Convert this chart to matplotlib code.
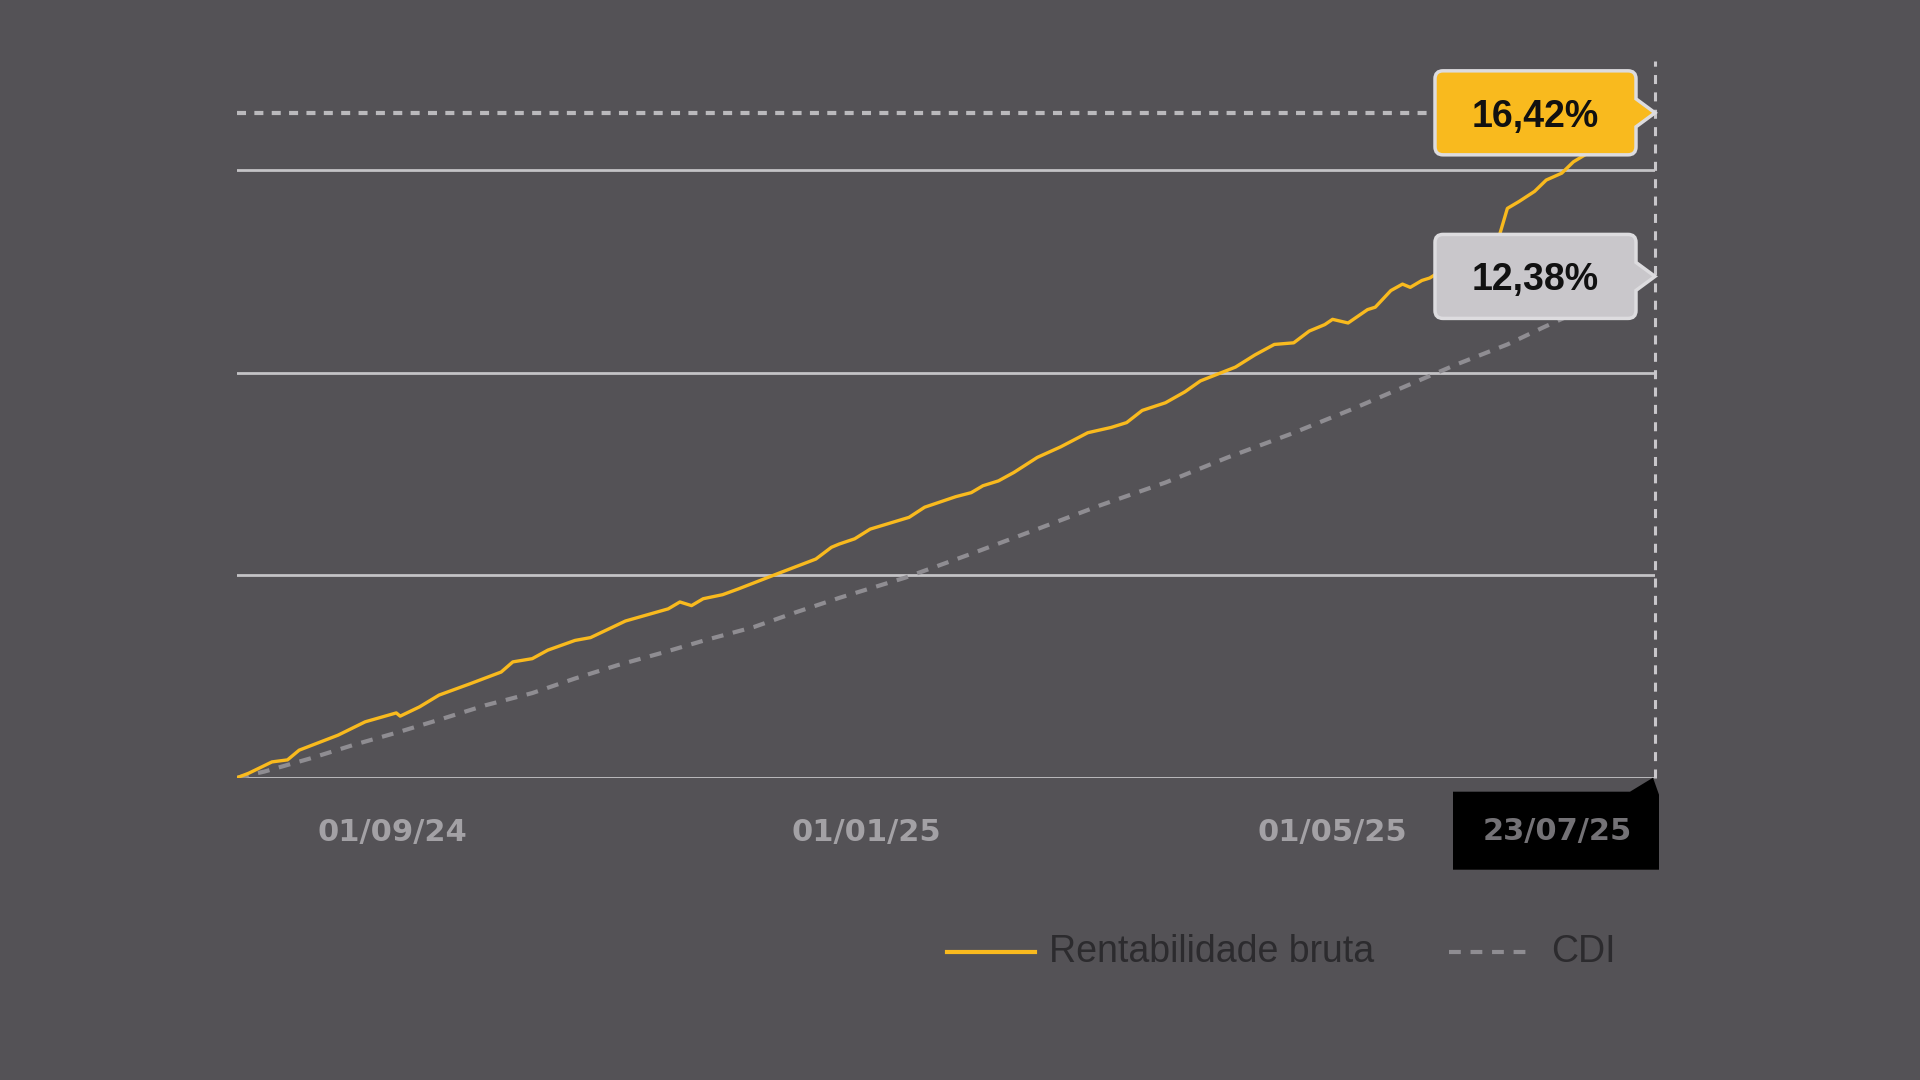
import matplotlib
matplotlib.use("Agg")
import matplotlib.pyplot as plt
import matplotlib.dates as mdates
import matplotlib.transforms as mtransforms
from matplotlib.path import Path
from matplotlib.patches import PathPatch, Polygon
from matplotlib.lines import Line2D
import pandas as pd

# Rentabilidade bruta acumulada (%)
datas_rent = [
    "2024-07-23", "2024-07-26", "2024-08-01", "2024-08-05", "2024-08-08",
    "2024-08-18", "2024-08-25", "2024-09-02", "2024-09-03", "2024-09-08",
    "2024-09-13", "2024-09-21", "2024-09-29", "2024-10-02", "2024-10-07",
    "2024-10-11", "2024-10-18", "2024-10-22", "2024-10-31", "2024-11-11",
    "2024-11-14", "2024-11-17", "2024-11-20", "2024-11-25", "2024-11-29",
    "2024-12-10", "2024-12-19", "2024-12-23", "2024-12-25", "2024-12-29",
    "2025-01-02", "2025-01-12", "2025-01-16", "2025-01-24", "2025-01-28",
    "2025-01-31", "2025-02-04", "2025-02-08", "2025-02-14", "2025-02-20",
    "2025-02-27", "2025-03-05", "2025-03-09", "2025-03-13", "2025-03-19",
    "2025-03-24", "2025-03-28", "2025-04-06", "2025-04-11", "2025-04-16",
    "2025-04-21", "2025-04-25", "2025-04-29", "2025-05-01", "2025-05-05",
    "2025-05-10", "2025-05-12", "2025-05-16", "2025-05-19", "2025-05-21",
    "2025-05-24", "2025-05-26", "2025-06-13", "2025-06-15", "2025-06-18",
    "2025-06-22", "2025-06-25", "2025-06-29", "2025-07-02", "2025-07-23",
]
rent_bruta = [
    0.00, 0.11, 0.39, 0.44, 0.68,
    1.05, 1.38, 1.60, 1.52, 1.75,
    2.04, 2.32, 2.61, 2.86, 2.94,
    3.15, 3.39, 3.46, 3.87, 4.17,
    4.34, 4.25, 4.42, 4.52, 4.66,
    5.07, 5.40, 5.69, 5.77, 5.90,
    6.14, 6.43, 6.68, 6.94, 7.04,
    7.21, 7.33, 7.54, 7.91, 8.17,
    8.52, 8.65, 8.77, 9.07, 9.26,
    9.53, 9.80, 10.14, 10.44, 10.70,
    10.74, 11.03, 11.19, 11.32, 11.23,
    11.56, 11.62, 12.03, 12.19, 12.11,
    12.28, 12.34, 13.41, 14.06, 14.23,
    14.48, 14.76, 14.93, 15.21, 16.42,
]

# CDI acumulado (%)
datas_cdi = [
    "2024-07-23", "2024-07-30", "2024-08-11", "2024-08-22", "2024-09-02",
    "2024-09-14", "2024-09-25", "2024-10-07", "2024-10-18", "2024-10-29",
    "2024-11-10", "2024-11-21", "2024-12-03", "2024-12-14", "2024-12-25",
    "2025-01-11", "2025-01-28", "2025-02-14", "2025-03-02", "2025-03-19",
    "2025-04-04", "2025-04-20", "2025-05-06", "2025-05-23", "2025-06-02",
    "2025-06-15", "2025-06-24", "2025-07-23",
]
cdi = [
    0.00, 0.15, 0.48, 0.81, 1.11,
    1.46, 1.79, 2.09, 2.45, 2.78,
    3.10, 3.41, 3.72, 4.09, 4.44,
    4.94, 5.53, 6.14, 6.72, 7.29,
    7.91, 8.48, 9.10, 9.80, 10.21,
    10.70, 11.11, 12.38,
]

inicio = "2024-07-23"
fim = "2025-07-23"
grade = [0, 5, 10, 15]
legenda = ["Rentabilidade bruta", "CDI"]

fundo = "#545256"
amarelo = "#f9ba1e"
cinza_cdi = "#8f8d92"
cinza_grade = "#c4c3c6"

plt.rcParams["lines.scale_dashes"] = False
plt.rcParams["font.family"] = ["Liberation Sans", "DejaVu Sans"]

fig = plt.figure(figsize=(19.2, 10.8), dpi=100, facecolor=fundo)
ax = fig.add_axes([237 / 1920, 1 - 777.7 / 1080, (1655 - 237) / 1920, (777.7 - 61) / 1080])
ax.set_facecolor(fundo)

x_r = pd.to_datetime(datas_rent)
x_c = pd.to_datetime(datas_cdi)
x_fim = pd.Timestamp(fim)

ax.plot(x_r, rent_bruta, color=amarelo, lw=2.4, zorder=4, solid_joinstyle="round")
ax.plot(x_c, cdi, color=cinza_cdi, lw=3, dashes=(8.5, 7), zorder=3)

ax.set_xlim(pd.Timestamp(inicio), x_fim)
ax.set_ylim(0, 17.7)

for g in grade:
    ax.axhline(g, color=cinza_grade, lw=2, zorder=1)
ax.axhline(rent_bruta[-1], color="#bab9bc", lw=3, dashes=(6.5, 6), zorder=2)
ax.axvline(x_fim, color="#c8c6ca", lw=2.2, dashes=(6.5, 6), zorder=2, clip_on=False)

for s in ax.spines.values():
    s.set_visible(False)
ax.set_yticks([])
ax.xaxis.set_major_locator(mdates.MonthLocator(bymonth=[1, 5, 9], bymonthday=1))
ax.xaxis.set_major_formatter(mdates.DateFormatter("%d/%m/%y"))
ax.tick_params(axis="x", length=0, pad=29, labelsize=22, labelcolor="#a3a1a5")
for t in ax.get_xticklabels():
    t.set_fontfamily("DejaVu Sans")
    t.set_fontweight("bold")


def balao(xd, yd, texto, cor):
    px, py = ax.transData.transform((mdates.date2num(xd), yd))
    tr = mtransforms.Affine2D().translate(px, py)
    L, R, B, T, h, r = -220, -19, -42, 42, 14, 8
    verts = [(L + r, T), (R - r, T), (R, T), (R, T - r), (R, h), (0, 0), (R, -h),
             (R, B + r), (R, B), (R - r, B), (L + r, B), (L, B), (L, B + r),
             (L, T - r), (L, T), (L + r, T), (L + r, T)]
    codes = [Path.MOVETO, Path.LINETO, Path.CURVE3, Path.CURVE3, Path.LINETO,
             Path.LINETO, Path.LINETO, Path.LINETO, Path.CURVE3, Path.CURVE3,
             Path.LINETO, Path.CURVE3, Path.CURVE3, Path.LINETO, Path.CURVE3,
             Path.CURVE3, Path.CLOSEPOLY]
    fig.add_artist(PathPatch(Path(verts, codes), transform=tr, fc=cor,
                             ec="#dddcdf", lw=2.5, zorder=6))
    fig.text((L + R) / 2, -4, texto, transform=tr, ha="center", va="center",
             fontsize=27, fontweight="bold", color="#111111", zorder=7)


def fmt(v):
    return f"{v:.2f}%".replace(".", ",")


balao(x_r[-1], rent_bruta[-1], fmt(rent_bruta[-1]), amarelo)
balao(x_c[-1], cdi[-1], fmt(cdi[-1]), "#c9c7cb")

# data final em caixa preta
px, py = ax.transData.transform((mdates.date2num(x_fim), 0))
tr = mtransforms.Affine2D().translate(px, py)
fig.add_artist(Polygon([(-202, -14), (-25, -14), (-2, 0), (4, -17), (4, -92), (-202, -92)],
                       closed=True, transform=tr, fc="black", ec="none", zorder=5))
fig.text(-98, -54, x_fim.strftime("%d/%m/%y"), transform=tr, ha="center", va="center",
         fontsize=22, fontweight="bold", color="#747276", family="DejaVu Sans", zorder=6)

# legenda
yl = 1 - 952 / 1080
fig.add_artist(Line2D([947 / 1920, 1035 / 1920], [yl, yl], color=amarelo, lw=3))
fig.text(1049 / 1920, yl, legenda[0], ha="left", va="center", fontsize=27, color="#2c2b2e")
fig.add_artist(Line2D([1449 / 1920, 1531 / 1920], [yl, yl], color=cinza_cdi, lw=3, dashes=(8.5, 7)))
fig.text(1551 / 1920, yl, legenda[1], ha="left", va="center", fontsize=27, color="#2c2b2e")

fig.savefig("out.png", dpi=100, facecolor=fundo)
